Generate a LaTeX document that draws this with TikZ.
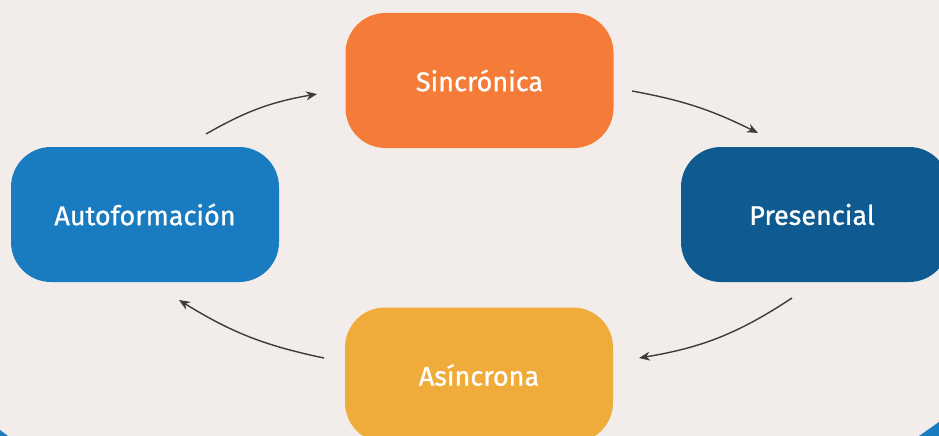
\documentclass[tikz,border=0pt]{standalone}
\usepackage{fontspec}
\setmainfont{Fira Sans}
\newfontfamily\boxfont{Fira Sans}[FakeBold=0.9]
\usetikzlibrary{arrows.meta}
\definecolor{bg}{RGB}{242,237,234}
\definecolor{corange}{RGB}{244,124,56}
\definecolor{cdblue}{RGB}{14,90,145}
\definecolor{cblue}{RGB}{25,123,192}
\definecolor{cyellow}{RGB}{239,172,59}
\definecolor{carrow}{RGB}{60,60,60}
\tikzset{
  box/.style={rounded corners=40pt, minimum width=268pt, minimum height=135pt,
    text=white, font=\boxfont\fontsize{27}{32}\selectfont, inner sep=0pt},
  cyc/.style={draw=carrow, line width=1.4pt, -{Stealth[length=11pt,width=9pt]}}
}
\begin{document}
\begin{tikzpicture}[x=1pt,y=-1pt]
\fill[bg] (0,0) rectangle (939,436);
\useasboundingbox (0,0) rectangle (939,436);
\begin{scope}
\clip (0,0) rectangle (939,436);
\node[box, fill=corange] (sinc) at (479.5,80.5) {Sincrónica};
\node[box, fill=cdblue] (pres) at (815,214.5) {\hspace*{-6pt}Presencial};
\node[box, fill=cblue] (auto) at (145,214.5) {Autoformación};
\node[box, fill=cyellow] (asin) at (479,375) {\raisebox{-3pt}{Asíncrona}};
\fill[cblue] (919,436) -- (939,422) -- (939,436) -- cycle;
\fill[cblue] (0,430) -- (8,436) -- (0,436) -- cycle;
\end{scope}
\coordinate (a1s) at (206,134);
\coordinate (a1e) at (317,94);
\coordinate (a2s) at (632,91);
\coordinate (a2e) at (758,133);
\coordinate (a3s) at (792,298);
\coordinate (a3e) at (639,358);
\coordinate (a4s) at (324,358);
\coordinate (a4e) at (179,300);
\draw[cyc] (a1s) to[bend left=10] (a1e);
\draw[cyc] (a2s) to[bend left=8] (a2e);
\draw[cyc] (a3s) to[bend left=12] (a3e);
\draw[cyc] (a4s) to[bend left=10] (a4e);
\end{tikzpicture}
\end{document}
